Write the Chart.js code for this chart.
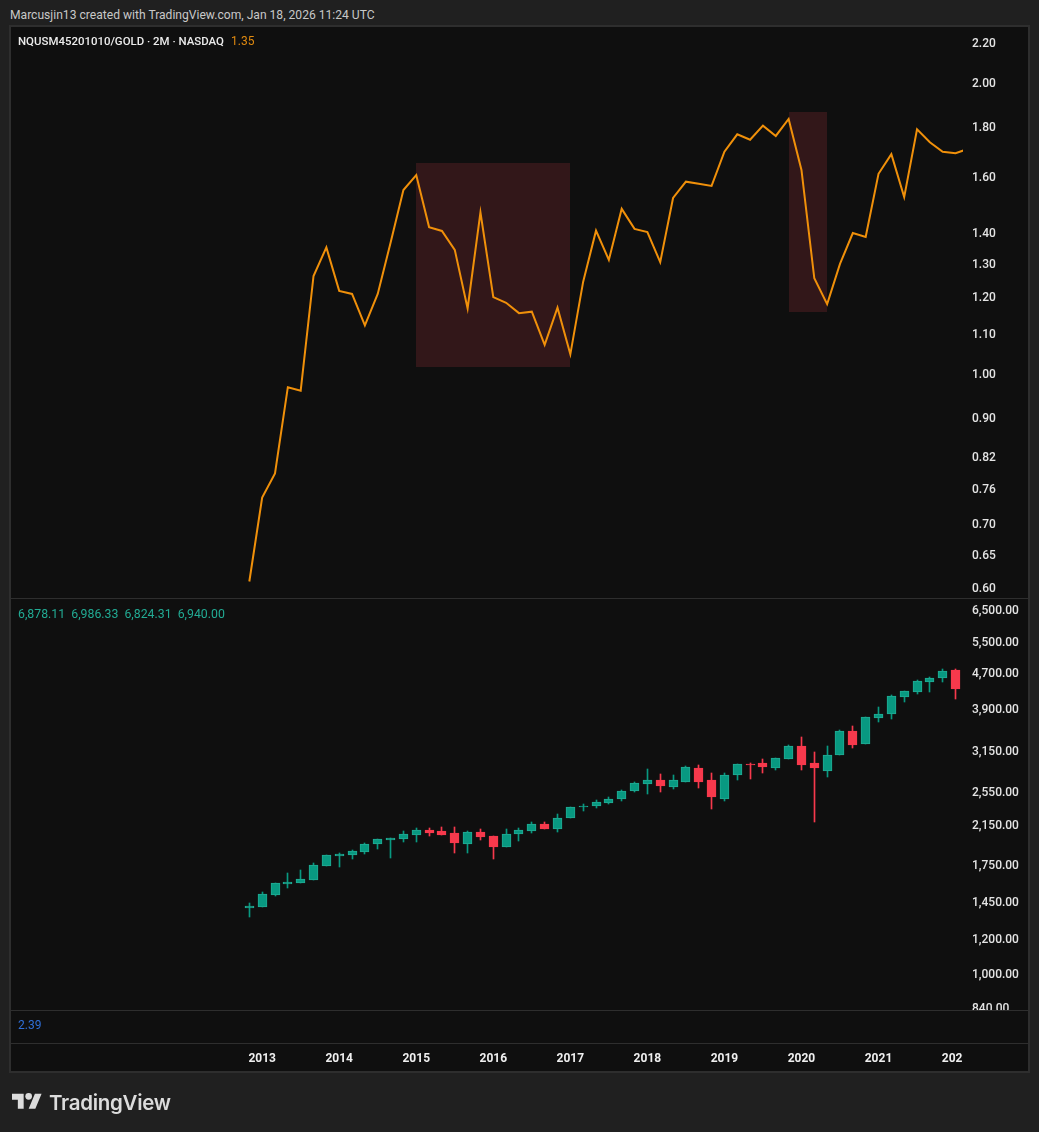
<!DOCTYPE html>
<html>
<head>
<meta charset="utf-8">
<title>NQUSM45201010/GOLD</title>
<script src="https://cdn.jsdelivr.net/npm/chart.js@4/dist/chart.umd.js"></script>
<style>
  html, body { margin: 0; padding: 0; width: 1039px; height: 1132px; overflow: hidden; background: #202020; }
  body { position: relative; font-family: Roboto, sans-serif; }
  .txt { position: absolute; white-space: pre; line-height: 16px; }
  .frame { position: absolute; left: 9px; top: 25px; width: 1017px; height: 1044px; border: 2px solid #2e2e2e; background: #0f0f0f; }
  .rule { position: absolute; left: 11px; width: 1018px; height: 1px; background: #2e2e2e; }
  canvas { position: absolute; }
</style>
</head>
<body>
<div class="txt" style="left:10px;top:7px;font-size:12.1px;color:#c8c8c8">Marcusjin13 created with TradingView.com, Jan 18, 2026 11:24 UTC</div>
<div class="frame"></div>
<canvas id="priceChart" width="1018" height="570" style="left:11px;top:28px"></canvas>
<canvas id="candleChart" width="1018" height="411" style="left:11px;top:599px"></canvas>
<canvas id="timeChart" width="952" height="61" style="left:11px;top:1011px"></canvas>
<div class="rule" style="top:598px"></div>
<div class="rule" style="top:1010px"></div>
<div class="rule" style="top:1043px"></div>
<div class="txt" style="left:18px;top:33px;font-size:11.45px;font-weight:500;color:#ececec">NQUSM45201010/GOLD · 2M · NASDAQ</div>
<div class="txt" style="left:231px;top:33px;font-size:12px;color:#e08a10">1.35</div>
<div class="txt" style="left:18px;top:606px;font-size:12.3px;color:#22ab94">6,878.11  6,986.33  6,824.31  6,940.00</div>
<div class="txt" style="left:18px;top:1017px;font-size:12px;color:#2f6fd8">2.39</div>
<svg style="position:absolute;left:12px;top:1088px" width="30" height="23.4" viewBox="0 0 36 28" fill="#dcdcdc">
  <path d="M14 25H7V14H0V7h14v18zM28 25h-8l7.5-18h8L28 25z"/><circle cx="20" cy="10" r="4"/>
</svg>
<div class="txt" style="left:49px;top:1091px;font-size:20.5px;line-height:24px;font-family:Inter,sans-serif;font-weight:600;letter-spacing:-0.3px;color:#dcdcdc">TradingView</div>

<script>
// ── Data: one entry per 2-month bar ──────────────────────────────────────────
const barIndex = Array.from({ length: 57 }, (_, i) => i);

const ratioValues = [
  0.610, 0.745, 0.789, 0.969, 0.961, 1.263, 1.352, 1.219, 1.210, 1.123,
  1.210, 1.367, 1.550, 1.606, 1.419, 1.406, 1.344, 1.169, 1.470, 1.201,
  1.185, 1.156, 1.160, 1.072, 1.171, 1.048, 1.246, 1.407, 1.312, 1.482,
  1.413, 1.402, 1.305, 1.521, 1.581, 1.573, 1.565, 1.698, 1.770, 1.747,
  1.807, 1.763, 1.836, 1.626, 1.256, 1.181, 1.300, 1.399, 1.386, 1.611,
  1.688, 1.524, 1.791, 1.737, 1.698, 1.692, 1.710
];

const opens = [
  1404, 1411, 1501, 1589, 1597, 1621, 1743, 1834, 1844, 1872,
  1951, 1992, 2002, 2044, 2097, 2086, 2065, 1951, 2075, 2033,
  1922, 2054, 2086, 2162, 2108, 2231, 2360, 2372, 2410, 2460,
  2562, 2656, 2712, 2616, 2683, 2884, 2712, 2460, 2782, 2944,
  2960, 2884, 3021, 3230, 2960, 2840, 3083, 3489, 3263, 3730,
  3806, 4155, 4263, 4488, 4582, 4774
];
const highs = [
  1441, 1525, 1597, 1681, 1707, 1770, 1844, 1864, 1892, 1961,
  2002, 2012, 2086, 2119, 2119, 2130, 2130, 2086, 2108, 2033,
  2108, 2119, 2185, 2185, 2277, 2360, 2397, 2447, 2485, 2576,
  2683, 2869, 2797, 2782, 2914, 2929, 2811, 2811, 2944, 2960,
  3021, 3037, 3247, 3383, 3132, 3230, 3507, 3580, 3749, 3947,
  4198, 4285, 4535, 4606, 4799, 4799
];
const lows = [
  1340, 1411, 1493, 1556, 1597, 1621, 1743, 1734, 1806, 1854,
  1902, 1816, 1971, 1971, 2033, 2044, 1864, 1864, 1992, 1806,
  1922, 1981, 2065, 2108, 2075, 2231, 2312, 2348, 2397, 2434,
  2549, 2523, 2549, 2589, 2683, 2603, 2336, 2434, 2712, 2726,
  2811, 2855, 3021, 2855, 2185, 2753, 3083, 3197, 3263, 3654,
  3711, 4050, 4219, 4263, 4488, 4113
];
const closes = [
  1418, 1509, 1597, 1605, 1630, 1752, 1844, 1854, 1882, 1951,
  2002, 2012, 2054, 2097, 2065, 2044, 1961, 2075, 2023, 1922,
  2054, 2097, 2162, 2108, 2231, 2360, 2372, 2422, 2460, 2562,
  2670, 2712, 2629, 2712, 2899, 2683, 2485, 2782, 2944, 2929,
  2899, 3037, 3230, 2929, 2884, 3083, 3489, 3247, 3749, 3806,
  4176, 4285, 4512, 4582, 4750, 4330
];

// shaded boxes on the ratio pane: bar from, bar to, ratio low, ratio high
const boxFrom = [13, 42];
const boxTo   = [25, 45];
const boxLow  = [1.0176, 1.1591];
const boxHigh = [1.653, 1.8678];

const ratioTicks  = [2.20, 2.00, 1.80, 1.60, 1.40, 1.30, 1.20, 1.10, 1.00, 0.90, 0.82, 0.76, 0.70, 0.65, 0.60];
const candleTicks = [6500, 5500, 4700, 3900, 3150, 2550, 2150, 1750, 1450, 1200, 1000, 840];
const yearTicks   = [1, 7, 13, 19, 25, 31, 37, 43, 49, 55];
const yearLabels  = ['2013', '2014', '2015', '2016', '2017', '2018', '2019', '2020', '2021', '2022'];

// ── Shared look ──────────────────────────────────────────────────────────────
const X_MIN = -18.56, X_MAX = 55.58;
const UP = '#089981', UP_EDGE = '#22ab94', DOWN = '#f7394c';
const AXIS_FONT = { family: 'Roboto, sans-serif', size: 12, weight: '500' };

// Tick labels would otherwise shrink the plot area, so drop the scale's auto padding
function noPadding(s) {
  s.paddingTop = s.paddingBottom = s.paddingLeft = s.paddingRight = 0;
}

const hiddenX = {
  type: 'linear', display: false, min: X_MIN, max: X_MAX, offset: false,
  grid: { display: false, offset: false },
};

function rightLogAxis(min, max, tickValues, fmt) {
  return {
    type: 'logarithmic', position: 'right', min, max,
    grid: { display: false, drawTicks: false },
    border: { display: false },
    afterFit(s) { s.width = 58; noPadding(s); },
    afterBuildTicks(s) { s.ticks = tickValues.map(v => ({ value: v })); },
    ticks: { color: '#e4e4e4', font: AXIS_FONT, padding: 9, labelOffset: 1, autoSkip: false, callback: fmt },
  };
}

const money = v => v.toLocaleString('en-US', { minimumFractionDigits: 2, maximumFractionDigits: 2 });

const baseOptions = {
  responsive: false, animation: false, events: [],
  layout: { autoPadding: false, padding: { top: 0, bottom: 0, left: 0, right: 8 } },
  plugins: { legend: { display: false }, tooltip: { enabled: false } },
};

// ── Plugin: shaded boxes under the ratio line ────────────────────────────────
const boxPlugin = {
  id: 'ratioBoxes',
  beforeDatasetsDraw(chart) {
    const { ctx, scales: { x, y } } = chart;
    ctx.save();
    ctx.fillStyle = '#321719';
    boxFrom.forEach((from, i) => {
      const l = Math.round(x.getPixelForValue(from));
      const r = Math.round(x.getPixelForValue(boxTo[i]));
      const t = Math.round(y.getPixelForValue(boxHigh[i]));
      const b = Math.round(y.getPixelForValue(boxLow[i]));
      ctx.fillRect(l, t, r - l, b - t);
    });
    ctx.restore();
  },
};

// ── Plugin: snap candle parts to whole pixels so they stay crisp ─────────────
const snapPlugin = {
  id: 'candleSnap',
  beforeDatasetsDraw(chart) {
    chart.data.datasets.forEach((ds, i) => {
      chart.getDatasetMeta(i).data.forEach(bar => {
        bar.x = Math.floor(bar.x) + 0.5;
        bar.y = Math.round(bar.y);
        bar.base = Math.round(bar.base);
        if (bar.y === bar.base) bar.base += 1;
      });
    });
  },
};

// ── Ratio pane ───────────────────────────────────────────────────────────────
new Chart(document.getElementById('priceChart'), {
  type: 'line',
  data: {
    labels: barIndex,
    datasets: [{
      data: barIndex.map(i => ({ x: i, y: ratioValues[i] })),
      borderColor: '#f0900a', borderWidth: 2, pointRadius: 0, tension: 0,
      borderJoinStyle: 'miter',
    }],
  },
  options: {
    ...baseOptions,
    scales: {
      x: hiddenX,
      y: rightLogAxis(0.5865, 2.280, ratioTicks, v => v.toFixed(2)),
    },
  },
  plugins: [boxPlugin],
});

// ── Candle pane ──────────────────────────────────────────────────────────────
const isUp = opens.map((o, i) => closes[i] >= o);

new Chart(document.getElementById('candleChart'), {
  type: 'bar',
  data: {
    datasets: [
      {
        data: opens.map((o, i) => ({ x: i, y: [o, closes[i]] })),
        backgroundColor: isUp.map(u => (u ? UP : DOWN)),
        borderColor: isUp.map(u => (u ? UP_EDGE : DOWN)),
        borderWidth: 1, borderSkipped: false, barThickness: 9, grouped: false,
      },
      {
        data: lows.map((l, i) => ({ x: i, y: [l, highs[i]] })),
        backgroundColor: isUp.map(u => (u ? UP : DOWN)),
        borderWidth: 0, barThickness: 1, grouped: false,
      },
    ],
  },
  options: {
    ...baseOptions,
    scales: {
      x: hiddenX,
      y: rightLogAxis(831, 6877, candleTicks, money),
    },
  },
  plugins: [snapPlugin],
});

// ── Empty indicator pane + time axis (canvas width cuts the last year label) ─
new Chart(document.getElementById('timeChart'), {
  type: 'line',
  data: { datasets: [{ data: [] }] },
  options: {
    ...baseOptions,
    layout: { autoPadding: false, padding: 0 },
    scales: {
      x: {
        type: 'linear', min: X_MIN, max: X_MAX, position: 'bottom',
        grid: { display: false, drawTicks: false },
        border: { display: false },
        afterFit(s) { s.height = 28; noPadding(s); },
        afterBuildTicks(s) { s.ticks = yearTicks.map(v => ({ value: v })); },
        ticks: {
          color: '#efefef', font: { family: 'Roboto, sans-serif', size: 12, weight: '700' },
          padding: 8, maxRotation: 0, autoSkip: false,
          callback: v => yearLabels[yearTicks.indexOf(v)],
        },
      },
      y: { display: false, min: 0, max: 1 },
    },
  },
});
</script>
</body>
</html>
